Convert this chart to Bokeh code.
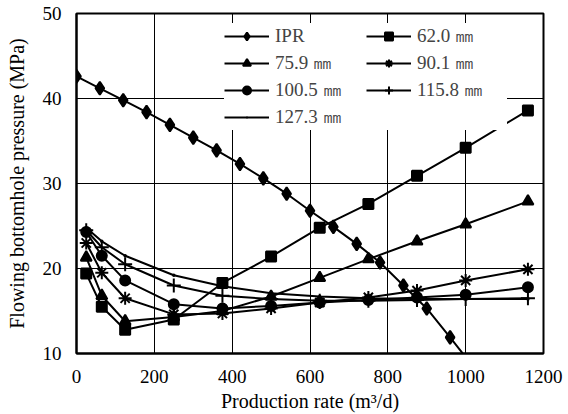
from bokeh.plotting import figure
from bokeh.models import Legend, LegendItem, FixedTicker, Range1d
from bokeh.embed import file_html
from bokeh.resources import INLINE

# Inflow performance relationship (IPR) of the well
ipr_q = [0, 60, 120, 180, 240, 300, 360, 420, 480, 540, 600, 660, 720, 780, 840, 900, 960, 1020]
ipr_p = [42.6, 41.2, 39.8, 38.4, 36.9, 35.4, 33.9, 32.3, 30.6, 28.8, 26.8, 24.9, 22.9, 20.7,
         18.0, 15.3, 11.9, 8.4]

# Outflow (tubing performance) curves, one per tubing inner diameter
tubing_q = [25, 65, 125, 250, 375, 500, 625, 750, 875, 1000, 1160]
p_62_0 = [19.4, 15.5, 12.8, 14.0, 18.3, 21.4, 24.8, 27.6, 30.9, 34.2, 38.6]
p_75_9 = [21.3, 16.8, 13.8, 14.3, 15.0, 16.7, 18.9, 21.1, 23.2, 25.2, 27.9]
p_90_1 = [23.0, 19.5, 16.5, 14.6, 14.7, 15.3, 16.0, 16.6, 17.4, 18.6, 19.9]
p_100_5 = [24.3, 21.5, 18.6, 15.8, 15.3, 15.6, 16.0, 16.3, 16.6, 16.9, 17.8]
p_115_8 = [24.5, 22.5, 20.5, 18.0, 16.8, 16.4, 16.2, 16.2, 16.3, 16.4, 16.5]
p_127_3 = [24.8, 23.2, 21.5, 19.2, 17.9, 17.1, 16.7, 16.5, 16.4, 16.4, 16.4]

x_ticks = [0, 200, 400, 600, 800, 1000, 1200]
y_ticks = [10, 20, 30, 40, 50]

SERIF = "Liberation Serif"

p = figure(width=568, height=414, x_range=Range1d(0, 1200), y_range=Range1d(10, 50),
           output_backend="svg", toolbar_location=None,
           min_border_left=76, min_border_right=25, min_border_top=13, min_border_bottom=61)

p.background_fill_color = "white"
p.border_fill_color = "white"
p.outline_line_color = "black"
p.outline_line_width = 2

p.xaxis.ticker = FixedTicker(ticks=x_ticks)
p.yaxis.ticker = FixedTicker(ticks=y_ticks)
for ax in (p.xaxis, p.yaxis):
    ax.axis_line_color = "black"
    ax.axis_line_width = 2
    ax.major_tick_in = 0
    ax.major_tick_out = 0
    ax.minor_tick_in = 0
    ax.minor_tick_out = 0
    ax.major_label_text_font = SERIF
    ax.major_label_text_font_size = "19px"
    ax.major_label_text_color = "black"
    ax.axis_label_text_font = SERIF
    ax.axis_label_text_font_size = "20px"
    ax.axis_label_text_font_style = "normal"
    ax.axis_label_text_color = "black"

p.xaxis.axis_label = "Production rate (m³/d)"
p.yaxis.axis_label = "Flowing bottomhole pressure (MPa)"
p.xaxis.major_label_standoff = 16
p.yaxis.major_label_standoff = 15
p.xaxis.axis_label_standoff = 4
p.yaxis.axis_label_standoff = 12

p.xgrid.grid_line_color = "black"
p.ygrid.grid_line_color = "black"
p.xgrid.grid_line_width = 1
p.ygrid.grid_line_width = 1

LW = 2
series = [
    ("IPR", ipr_q, ipr_p, "diamond", 13),
    ("62.0 ㎜", tubing_q, p_62_0, "square", 10),
    ("75.9 ㎜", tubing_q, p_75_9, "triangle", 11),
    ("90.1 ㎜", tubing_q, p_90_1, "asterisk", 13),
    ("100.5 ㎜", tubing_q, p_100_5, "circle", 10),
    ("115.8 ㎜", tubing_q, p_115_8, "cross", 14),
    ("127.3 ㎜", tubing_q, p_127_3, "dot", 14),
]

items = {}
for label, xs, ys, marker, size in series:
    ln = p.line(xs, ys, line_color="black", line_width=LW)
    mk = p.scatter(xs, ys, marker=marker, size=size, fill_color="black",
                   line_color="black", line_width=2)
    items[label] = LegendItem(label=label, renderers=[ln, mk])

# two columns, filled column by column
order = ["IPR", "75.9 ㎜", "100.5 ㎜", "127.3 ㎜", "62.0 ㎜", "90.1 ㎜", "115.8 ㎜"]
legend = Legend(items=[items[k] for k in order], ncols=2, location=(148, 223),
                background_fill_color="white", background_fill_alpha=1.0,
                border_line_color=None, label_text_font=SERIF,
                label_text_font_size="19px", glyph_width=45, glyph_height=20,
                label_width=90, label_height=20,
                label_standoff=6, spacing=1, padding=5, margin=0)
p.add_layout(legend, "center")

open("out.html", "w").write(file_html(p, INLINE))
